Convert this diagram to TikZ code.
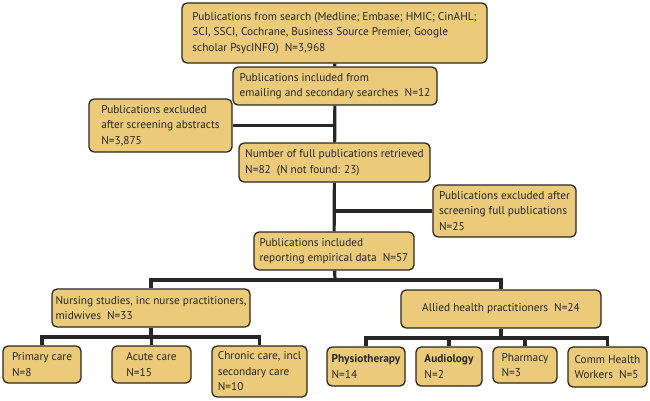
\documentclass[tikz,border=0pt]{standalone}
\usepackage{fontspec}
\setmainfont{PT Sans}
\usepackage{tikz}
\usetikzlibrary{calc}
\definecolor{boxfill}{RGB}{235,203,122}
\definecolor{boxline}{RGB}{45,38,28}

\begin{document}
\begin{tikzpicture}[x=1pt,y=-1pt,
      box/.style={
        rectangle,
        rounded corners=5pt,
        draw=boxline,
        line width=1.3pt,
        fill=boxfill,
        align=left,
        inner sep=2pt,
        font=\fontsize{11.3}{15.5}\selectfont,
        text=black!85
      },
      link/.style={line width=3.2pt,draw=black!85}
    ]
    \useasboundingbox (0,0) rectangle (650,401);
    \node[box,minimum width=305pt,minimum height=60pt] (S) at (334.5,33) {Publications from search (Medline; Embase; HMIC; CinAHL;\\SCI, SSCI, Cochrane, Business Source Premier, Google\\scholar PsycINFO)\ \ N=3,968};
    \node[box,minimum width=204pt,minimum height=38pt] (E) at (335,86) {Publications included from\\emailing and secondary searches\ \ N=12};
    \node[box,minimum width=143pt,minimum height=53pt] (X1) at (160.5,125.5) {Publications excluded\\after screening abstracts\\N=3,875};
    \node[box,minimum width=191pt,minimum height=39pt] (F) at (334.5,162.5) {Number of full publications retrieved\\N=82\ \ (N not found: 23)};
    \node[box,minimum width=143pt,minimum height=52pt] (X2) at (504.5,211) {Publications excluded after\\screening full publications\\N=25};
    \node[box,minimum width=160pt,minimum height=38pt] (R) at (334,251) {Publications included\\reporting empirical data\ \ N=57};
    \node[box,minimum width=198pt,minimum height=38pt] (N) at (151,308) {Nursing studies, inc nurse practitioners,\\midwives\ \ N=33};
    \node[box,minimum width=200pt,minimum height=38pt] (H) at (501,309) {Allied health practitioners\ \ N=24};
    \node[box,minimum width=78pt,minimum height=37pt] (N1) at (42,364.5) {Primary care\\N=8};
    \node[box,minimum width=79pt,minimum height=37pt] (N2) at (151.5,364.5) {Acute care\\N=15};
    \node[box,minimum width=95pt,minimum height=51pt] (N3) at (259.5,371.5) {Chronic care, incl\\secondary care\\N=10};
    \node[box,minimum width=78pt,minimum height=39pt] (H1) at (366,366.5) {\textbf{Physiotherapy}\\N=14};
    \node[box,minimum width=66pt,minimum height=39pt] (H2) at (449,366.5) {\textbf{Audiology}\\N=2};
    \node[box,minimum width=64pt,minimum height=36pt] (H3) at (525,365) {Pharmacy\\N=3};
    \node[box,minimum width=79pt,minimum height=40pt] (H4) at (607.5,367) {Comm Health\\Workers\ \ N=5};
    \coordinate (B0) at (335,280);
    \coordinate (B1) at (151,337);
    \coordinate (B2) at (501,338);
    \draw[link] (S) -- (E);
    \draw[link] (E) -- (F);
    \draw[link] (X1) -- (X1 -| E);
    \draw[link] (F) -- (R);
    \draw[link] (X2) -- (X2 -| F);
    \draw[link] (R) -- (B0);
    \draw[link] (N) |- (B0) -| (H);
    \draw[link] (N) -- (B1);
    \draw[link] (N1) |- (B1) -| (N3);
    \draw[link] (N2) -- (N2 |- B1);
    \draw[link] (H) -- (B2);
    \draw[link] (H1) |- (B2) -| (H4);
    \draw[link] (H2) -- (H2 |- B2);
    \draw[link] (H3) -- (H3 |- B2);
  \end{tikzpicture}
\end{document}
